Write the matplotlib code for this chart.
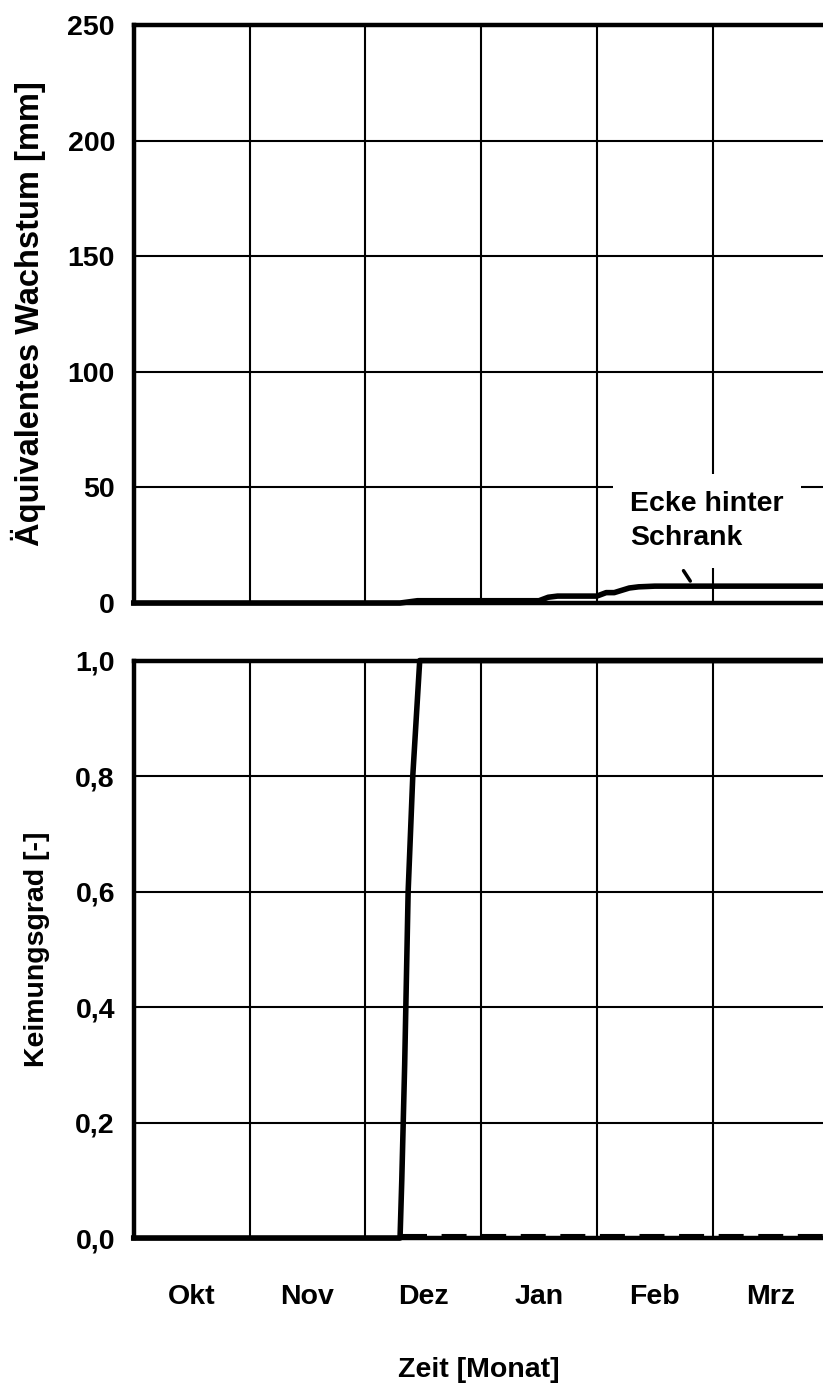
"""Keimung / äquivalentes Wachstum, Ecke hinter Schrank (Okt-Mrz)."""
import numpy as np
import matplotlib
matplotlib.use("Agg")
import matplotlib.pyplot as plt

plt.rcParams['font.family'] = ['Liberation Sans', 'DejaVu Sans']
plt.rcParams['font.weight'] = 'bold'
FS = 20.5

# x in months since 1 Oct
months = ["Okt", "Nov", "Dez", "Jan", "Feb", "Mrz"]
x_end = 5.953

# top panel: equivalent growth [mm]
t_wachstum = [0, 2.30, 2.45, 3.50, 3.58, 3.66, 4.00, 4.08, 4.15, 4.28, 4.36, 4.50, x_end]
wachstum   = [0, 0.0,  1.0,  1.0,  2.5,  3.0,  3.0,  4.5,  4.5,  6.5,  7.0,  7.3,  7.3]

# bottom panel: germination degree [-]
t_keim = [0, 2.30, 2.315, 2.34, 2.37, 2.41, 2.47, x_end]
keim   = [0, 0.0,  0.10,  0.30, 0.60, 0.80, 1.00, 1.00]
# second (dashed) series, stays ~0
t_keim2 = [2.32, x_end]
keim2   = [0.005, 0.005]

y1_ticks = [0, 50, 100, 150, 200, 250]
y1_labels = ["0", "50", "100", "150", "200", "250"]
y2_ticks = [0, 0.2, 0.4, 0.6, 0.8, 1.0]
y2_labels = ["0,0", "0,2", "0,4", "0,6", "0,8", "1,0"]

fig = plt.figure(figsize=(8.23, 13.85), dpi=100)
ax1 = fig.add_axes([0.1625, 0.5646, 0.8375, 0.4174])
ax2 = fig.add_axes([0.1625, 0.1061, 0.8375, 0.4170])

for ax in (ax1, ax2):
    ax.set_xlim(0, x_end)
    ax.set_xticks(np.arange(1, len(months)))
    ax.set_xticks(np.arange(len(months)) + 0.5, minor=True)
    ax.tick_params(which='both', length=0)
    ax.tick_params(axis='y', pad=13.5, labelsize=FS)
    ax.grid(True, which='major', color='black', lw=1.5)
    ax.set_axisbelow(True)
    for s in ('left', 'top', 'bottom'):
        ax.spines[s].set_linewidth(3.2)
    ax.spines['right'].set_visible(False)
    ax.set_xticklabels([])

ax1.set_ylim(0, 250)
ax1.set_yticks(y1_ticks)
ax1.set_yticklabels(y1_labels, fontweight='bold')
ax1.plot(t_wachstum, wachstum, color='black', lw=4, zorder=4, clip_on=False,
         solid_joinstyle='round')
ax1.set_ylabel("Äquivalentes Wachstum [mm]", fontsize=23.5, fontweight='bold')
ax1.yaxis.set_label_coords(-0.127, 0.5)

ax1.text(4.286, 35.5, "Ecke hinter\nSchrank", ha='left', va='center',
         multialignment='left', fontsize=FS, fontweight='bold',
         linespacing=1.4, zorder=3,
         bbox=dict(boxstyle='square,pad=0.6', facecolor='white', edgecolor='none'))
ax1.annotate("", xy=(4.82, 8.5), xytext=(4.735, 15),
             arrowprops=dict(arrowstyle='-', lw=2.5, color='black'), zorder=3)

ax2.set_ylim(0, 1.0)
ax2.set_yticks(y2_ticks)
ax2.set_yticklabels(y2_labels, fontweight='bold')
ax2.plot(t_keim, keim, color='black', lw=4, zorder=4, clip_on=False)
ax2.plot(t_keim2, keim2, color='black', lw=1.5, ls=(0, (12, 7)), zorder=4)
ax2.set_xticklabels(months, minor=True, fontsize=FS, fontweight='bold')
ax2.tick_params(axis='x', which='minor', pad=33)
ax2.set_ylabel("Keimungsgrad [-]", fontsize=FS, fontweight='bold')
ax2.yaxis.set_label_coords(-0.122, 0.5)
ax2.set_xlabel("Zeit [Monat]", fontsize=FS, fontweight='bold')
ax2.xaxis.set_label_coords(0.5, -0.228)
ax2.xaxis.label.set_verticalalignment('center')

fig.savefig("out.png", dpi=100)
